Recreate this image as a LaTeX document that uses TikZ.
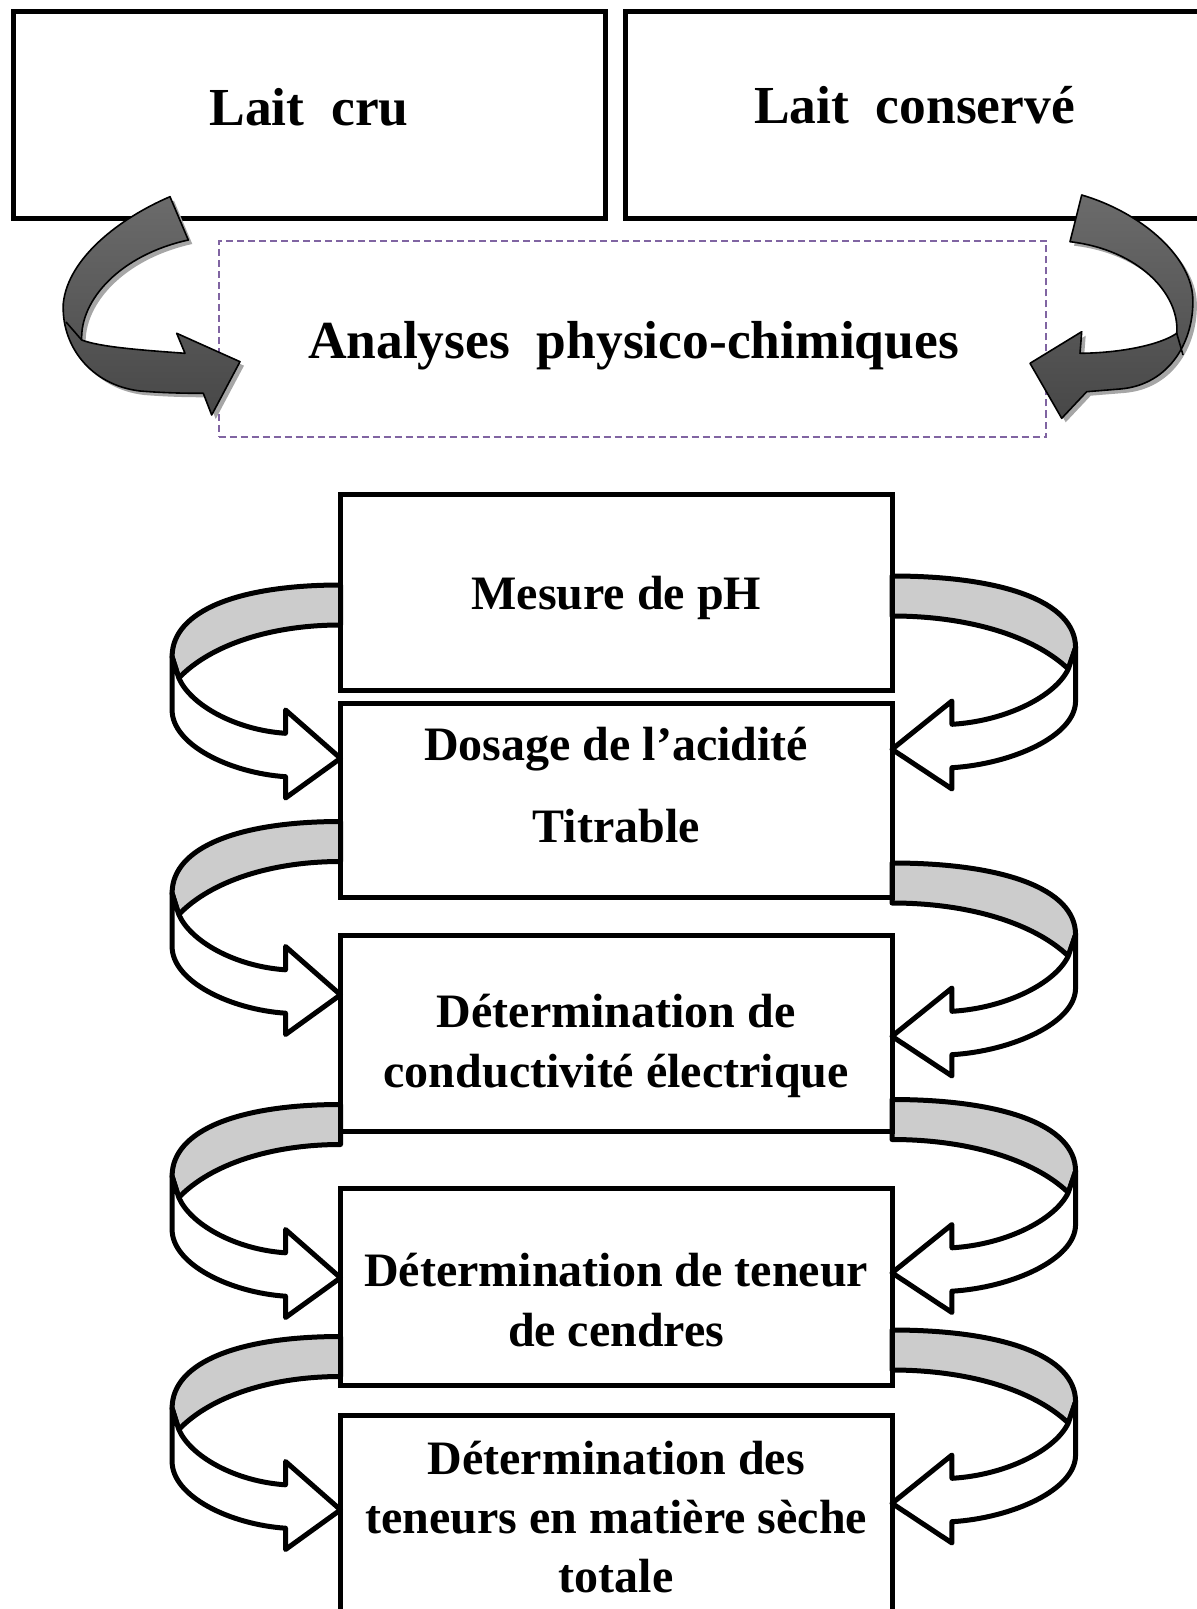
\documentclass[tikz,border=0pt]{standalone}
\usepackage{fontspec}
\setmainfont{Liberation Serif}
\usetikzlibrary{calc}
\definecolor{arrowgray}{RGB}{85,85,85}
\definecolor{bandgray}{RGB}{204,204,204}
\definecolor{dashpurple}{RGB}{128,100,162}
\newcommand\mylines[2]{\vtop{\baselineskip=#1\halign{\hfil##\hfil\cr#2\crcr}}}
\tikzset{
  ribbonline/.style={draw, line width=2.5pt, line join=round},
  ribbon/.pic={
    \path[ribbonline, fill=bandgray] (0,0) .. controls (-100,0) and (-168.4,25) .. (-168.4,71.7)
      -- (-161.7,93) .. controls (-130,60) and (-70,40) .. (0,40) -- cycle;
    \path[ribbonline, fill=white] (-168.4,71.7) -- (-168.4,125)
      .. controls (-168.4,160) and (-110,188) .. (-55,191.7)
      -- (-55,213) -- (0,173.3) -- (-55,125) -- (-55,148.3)
      .. controls (-105,145) and (-150,120) .. (-161.7,93) -- cycle;
  }
}
\newcommand\arrowCruPath[1]{%
  \path[#1] (170,196.7) .. controls (120,218) and (68,258) .. (63.3,303.3)
    .. controls (61,345) and (90,385) .. (140,391)
    .. controls (165,393) and (185,393.3) .. (203.3,393.3)
    -- (211.7,415) -- (240,361.7) -- (176.7,333.3) -- (185,353.3)
    .. controls (140,350) and (100,347) .. (81.7,340)
    .. controls (80,300) and (120,255) .. (188.3,240) -- cycle;}
\newcommand\arrowConsPath[1]{%
  \path[#1] (1081.7,195) .. controls (1140,212) and (1190,255) .. (1192.7,296.7)
    .. controls (1195,340) and (1170,385) .. (1120,389)
    -- (1086.7,391.7) -- (1061.7,418.3) -- (1030,363.3) -- (1081.7,331.7) -- (1080,353.3)
    .. controls (1120,353) and (1160,345) .. (1176.7,333.3)
    .. controls (1180,295) and (1140,250) .. (1070,241.7) -- cycle;}
\begin{document}
\begin{tikzpicture}[x=0.5pt,y=-0.5pt,
  topbox/.style={draw, line width=2.5pt, inner sep=0pt, outer sep=0pt, minimum height=103.25pt},
  stepbox/.style={draw, line width=2.5pt, inner sep=0pt, outer sep=0pt, minimum width=275.75pt},
  dashbox/.style={draw=dashpurple, line width=1pt, dash pattern=on 3.5pt off 2pt, inner sep=0pt, outer sep=0pt, minimum width=413.75pt, minimum height=98pt},
  bigtxt/.style={font=\fontsize{26.75}{32}\selectfont\bfseries, inner sep=0pt, anchor=base},
  txt/.style={font=\fontsize{24}{30}\selectfont\bfseries, inner sep=0pt, anchor=base},
  bigarrow/.style={draw=black, line width=0.8pt, line join=round, top color=black!58, bottom color=black!72},
  bigshadow/.style={fill=black!35, shift={(4,4)}}
]
\useasboundingbox (0,0) rectangle (1196,1609);

% top boxes
\node[topbox, minimum width=296pt] (cru) at (309,115.25) {};
\node[topbox, minimum width=289.5pt] (cons) at (914.5,115.25) {};
\node[bigtxt] (crutxt) at (309,126) {Lait\hspace{0.5em}cru};
\node[bigtxt] (constxt) at (914.5,124) {Lait\hspace{0.5em}conservé};

% dashed box
\node[dashbox] (ana) at (632.25,339) {};
\node[bigtxt] (anatxt) at (633.5,359) {Analyses\hspace{0.5em}physico-chimiques};

% big curved arrows
\arrowCruPath{bigshadow}
\arrowCruPath{bigarrow}
\draw[line width=0.8pt] (66,322) -- (81.7,340);
\arrowConsPath{bigshadow}
\arrowConsPath{bigarrow}
\draw[line width=0.8pt] (1176.7,333.3) -- (1183,355);

% step boxes
\node[stepbox, minimum height=98pt] (b1) at (616.25,592) {};
\node[stepbox, minimum height=97pt] (b2) at (616.25,800) {};
\node[stepbox, minimum height=97.75pt] (b3) at (616.25,1033.25) {};
\node[stepbox, minimum height=98.5pt] (b4) at (616.25,1286.5) {};
\node[stepbox, minimum height=98.25pt] (b5) at (616.25,1513.75) {};

% ribbon arrows (left)
\pic at ($(b1.north west)+(0,91)$) {ribbon};
\pic at ($(b2.north west)+(0,118.5)$) {ribbon};
\pic at ($(b3.north west)+(0,169)$) {ribbon};
\pic at ($(b4.north west)+(0,148.5)$) {ribbon};
% ribbon arrows (right)
\pic[xscale=-1.09] at ($(b1.north east)+(0,82)$) {ribbon};
\pic[xscale=-1.09] at ($(b2.north east)+(0,160)$) {ribbon};
\pic[xscale=-1.09] at ($(b3.north east)+(0,164)$) {ribbon};
\pic[xscale=-1.09] at ($(b4.north east)+(0,142)$) {ribbon};

% redraw box borders on top
\foreach \b in {b1,b2,b3,b4,b5} {\draw[line width=2.5pt] (\b.north west) rectangle (\b.south east);}

% texts
\node[txt] (t1) at (616.25,609) {Mesure de pH};
\node[txt] (t2) at (616.25,760) {\mylines{41pt}{Dosage de l’acidité\cr Titrable}};
\node[txt] (t3) at (616.25,1027) {\mylines{30pt}{Détermination de\cr conductivité électrique}};
\node[txt] (t4) at (616.25,1286) {\mylines{30pt}{Détermination de teneur\cr de cendres}};
\node[txt] (t5) at (616.25,1474) {\mylines{29.5pt}{Détermination des\cr teneurs en matière sèche\cr totale}};
\end{tikzpicture}
\end{document}
